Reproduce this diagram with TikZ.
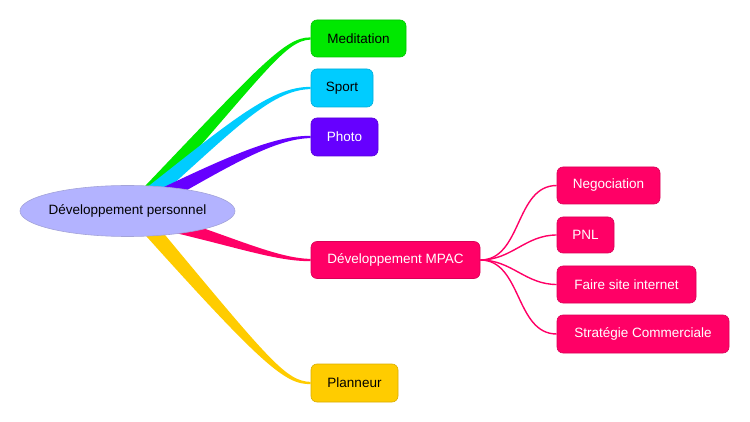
\documentclass[tikz,border=0pt]{standalone}
\usepackage{fontspec}
\setmainfont{Liberation Sans}
\usetikzlibrary{calc,shapes.geometric}
\definecolor{cgreen}{HTML}{00E800}
\definecolor{ccyan}{HTML}{00CCFF}
\definecolor{cpurple}{HTML}{6600FF}
\definecolor{cpink}{HTML}{FF0066}
\definecolor{cyellow}{HTML}{FFCC00}
\definecolor{croot}{HTML}{B3B3FF}
\newcommand\mmbranch[6]{%
  \fill[#1] ($(#2)!#6!90:(#3)$) .. controls ($(#3)!4.5pt!-90:(#2)$) and ($(#4)+(0,-1.8)$) .. ($(#5)+(0,-1.1)$)
    -- ($(#5)+(0,1.1)$) .. controls ($(#4)+(0,1.8)$) and ($(#3)!4.5pt!90:(#2)$) .. ($(#2)!#6!-90:(#3)$) -- cycle;}
\tikzset{
  mmfont/.style={font=\fontsize{13.5pt}{16pt}\selectfont},
  topic/.style={rectangle, rounded corners=6pt, line width=0.6pt, inner sep=0pt, mmfont},
  subline/.style={draw=cpink, line width=1.4pt},
}
\begin{document}
\begin{tikzpicture}[x=1pt,y=-1pt]
\useasboundingbox (0,0) rectangle (750,422);
% topic nodes
\node[topic, fill=cgreen, draw=cgreen!85!black, minimum width=95pt, minimum height=37pt, text=black] (med) at (358.5,38.5) {Meditation};
\node[topic, fill=ccyan, draw=ccyan!85!black, minimum width=62pt, minimum height=38pt, text=black] (sport) at (342,88) {Sport};
\node[topic, fill=cpurple, draw=cpurple!85!black, minimum width=67pt, minimum height=38pt, text=white] (photo) at (344.5,137) {Photo};
\node[topic, fill=cpink, draw=cpink!85!black, minimum width=169pt, minimum height=37pt, text=white] (mpac) at (395.5,260) {Développement MPAC};
\node[topic, fill=cyellow, draw=cyellow!85!black, minimum width=87pt, minimum height=38pt, text=black] (plan) at (354.5,383) {Planneur};
\node[topic, fill=cpink, draw=cpink!85!black, minimum width=103pt, minimum height=37pt, text=white] (neg) at (608.5,185.5) {Negociation};
\node[topic, fill=cpink, draw=cpink!85!black, minimum width=57pt, minimum height=36pt, text=white] (pnl) at (585.5,235) {PNL};
\node[topic, fill=cpink, draw=cpink!85!black, minimum width=139pt, minimum height=37pt, text=white] (faire) at (626.5,284.5) {Faire site internet};
\node[topic, fill=cpink, draw=cpink!85!black, minimum width=172pt, minimum height=38pt, text=white] (strat) at (643,334) {Stratégie Commerciale};
% branch geometry
\coordinate (sG) at (138,205); \coordinate (aG) at (262,70);  \coordinate (bG) at (285,38.5);
\coordinate (sC) at (140,203); \coordinate (aC) at (230,128); \coordinate (bC) at (270,88);
\coordinate (sP) at (145,205); \coordinate (aP) at (230,160); \coordinate (bP) at (275,137);
\coordinate (sM) at (150,219); \coordinate (aM) at (230,240); \coordinate (bM) at (275,260);
\coordinate (sY) at (138,215); \coordinate (aY) at (265,362); \coordinate (bY) at (285,383);
\mmbranch{cgreen}{sG}{aG}{bG}{med.west}{8pt}
\mmbranch{ccyan}{sC}{aC}{bC}{sport.west}{8pt}
\mmbranch{cpurple}{sP}{aP}{bP}{photo.west}{8pt}
\mmbranch{cpink}{sM}{aM}{bM}{mpac.west}{8pt}
\mmbranch{cyellow}{sY}{aY}{bY}{plan.west}{8pt}
% root
\node[ellipse, fill=croot, draw=croot!70!gray, line width=0.6pt, minimum width=215pt, minimum height=51pt, inner xsep=-5pt, inner ysep=0pt, mmfont, text=black] (root) at (127.5,211) {Développement personnel};
% sub branches
\draw[subline] (mpac.east) to[out=0,in=180] (neg.west);
\draw[subline] (mpac.east) to[out=0,in=180] (pnl.west);
\draw[subline] (mpac.east) to[out=0,in=180] (faire.west);
\draw[subline] (mpac.east) to[out=0,in=180] (strat.west);
\end{tikzpicture}
\end{document}
